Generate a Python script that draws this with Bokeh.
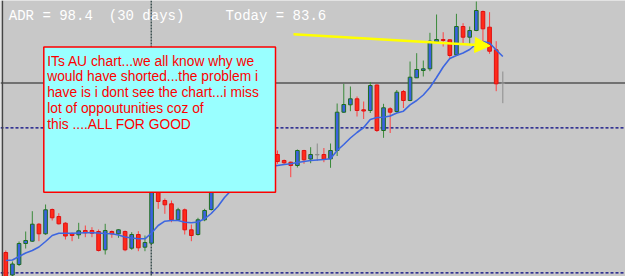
from bokeh.plotting import figure
from bokeh.models import ColumnDataSource, Range1d, Span, BoxAnnotation, Label, Arrow, NormalHead
from bokeh.embed import file_html
from bokeh.resources import INLINE

# ---- data (price levels in pips above chart base) ----
opens = [24, 1.5, 12, 33, 35.3, 52.3, 42.7, 67, 60, 53.3,
         42.7, 41.7, 46, 46, 45, 26.7, 45, 42.7, 45, 28.3,
         42, 29.3, 33.3, 88, 76, 72.7, 56.7, 66.7, 46.7, 42,
         56.7, 67, 88, 95, 90, 103, 110, 104, 115, 109,
         120, 122, 116, 114.3, 111, 126, 117.5, 122, 122, 117.7,
         126, 164.3, 171.7, 177.7, 166.7, 166, 191.5, 146, 167.7, 165,
         185, 176, 198.7, 206, 207.7, 234.3, 237, 236.7, 221.7, 250,
         239.3, 246, 265, 249.3, 226.7, 193.5]
closes = [-6, 12.5, 33, 36, 52.3, 42.7, 66.7, 58.7, 52.7, 40.5,
          41, 45.7, 43.7, 43.3, 26, 46, 42.7, 46.7, 26.7, 42,
          28.7, 34, 90, 75, 71.7, 56.7, 66.7, 46.7, 41, 56.7,
          66, 88, 95, 90, 103, 110, 104, 115, 109, 120,
          118, 115, 113.7, 111, 126, 116.7, 122, 122, 117.3, 126,
          164.3, 172, 177.7, 166, 165.5, 191, 146, 168.7, 164.3, 184.3,
          176, 199.3, 207, 207.7, 235.3, 237, 236, 221, 250, 239.3,
          246, 266, 247.7, 225.3, 192.7, 193.5]
highs = [26, 15, 35, 45, 65.3, 53.5, 72, 68, 63.3, 54.3,
         44, 53.7, 51, 49.3, 47, 52.7, 46, 47.3, 46, 44.3,
         45.3, 41, 96, 91, 78, 76, 68.7, 68, 52, 58.7,
         67.7, 92, 99, 98, 106, 114, 112, 118, 117, 123,
         124, 126, 117, 115, 127, 126.7, 129.3, 133, 128.5, 133,
         173, 192.7, 190, 180, 175, 194.5, 192, 172.7, 169.3, 186.5,
         186.5, 215, 223.3, 216, 243.7, 262, 244.3, 237, 262.7, 253.3,
         250, 275, 266, 264.3, 235.3, 205]
lows = [-8, -1, 10.5, 28, 34.5, 35.3, 41.7, 56, 52, 37,
        35.3, 37.7, 39.3, 39.3, 25, 22, 38.7, 38.7, 25.3, 26.7,
        25.3, 25.3, 32.7, 67.7, 62.7, 54.3, 56, 42, 35.3, 41,
        55.3, 66, 85, 87, 88, 100, 101, 102, 106, 107,
        115, 112.7, 112, 99.3, 109, 112.7, 113.3, 115.5, 114.3, 108.7,
        120.5, 163.5, 165.3, 160, 157.5, 163.5, 144.5, 138.7, 143.5, 164,
        168.5, 175.3, 198.5, 200, 205.3, 234.3, 230, 218.7, 221, 233.3,
        232.7, 245.3, 232.7, 222.7, 185.3, 173.3]
ma = [16, 16.5, 20, 23.5, 26, 29.5, 35, 41, 43.3, 43.3,
      43.3, 43.5, 43.7, 43.7, 43.5, 43, 42.7, 41.5, 39.5, 38.5,
      37.7, 37.7, 43.5, 51, 55.3, 56, 56, 54.3, 53.7, 54.5,
      57.7, 63, 70, 79, 86, 92, 97, 101, 105, 108,
      110, 111, 112, 112.7, 114, 115, 116, 116.5, 117, 117.7,
      126, 132, 138.5, 144, 149, 157, 159, 159.3, 160.5, 163.5,
      165.3, 171.7, 176, 181.5, 189, 199, 209.5, 218, 221, 223.5,
      227, 232.5, 235, 233.5, 226.5, 220]

upper_level = 148.7      # dashed navy line
lower_level = 3.7        # dashed navy line
separator_bar = 21.94    # period separator position (bar index)

header_parts = ["ADR = 98.4", "(30 days)", "Today = 83.6"]
header_cols = [0, 12, 26]

note_lines = ["ITs AU chart...we all know why we",
              "would have shorted...the problem i",
              "have is i dont see the chart...i miss",
              "lot of oppoutunities coz of",
              "this ....ALL FOR GOOD"]

# ---- layout helpers ----
PX0 = 5.3      # pixel x of bar 0
STEP = 6.627   # pixels per bar
W, H = 625, 276

def bx(px):
    return (px - PX0) / STEP

def vy(py):
    return H - py

n = len(opens)
idx = list(range(n))
BULL_FILL, BULL_LINE, BULL_WICK = "#3a62e0", "#1e6e1e", "#3a8a3a"
BEAR_FILL, BEAR_LINE, BEAR_WICK = "#ff2a1a", "#e01010", "#ff4040"
DOJI = "#8c8c8c"

fills, lines, wicks = [], [], []
for o, c in zip(opens, closes):
    if c > o:
        fills.append(BULL_FILL); lines.append(BULL_LINE); wicks.append(BULL_WICK)
    elif c < o:
        fills.append(BEAR_FILL); lines.append(BEAR_LINE); wicks.append(BEAR_WICK)
    else:
        fills.append(DOJI); lines.append(DOJI); wicks.append(DOJI)

src = ColumnDataSource(dict(
    x=idx, top=[max(o, c) for o, c in zip(opens, closes)],
    bottom=[min(o, c) if o != c else o - 0.4 for o, c in zip(opens, closes)],
    high=highs, low=lows, fill=fills, line=lines, wick=wicks))

BG = "#c8c8c8"
p = figure(width=W, height=H, output_backend="svg", toolbar_location=None,
           x_range=Range1d(bx(0), bx(W)), y_range=Range1d(0, H),
           x_axis_type=None, y_axis_type=None, min_border=0)
p.background_fill_color = BG
p.border_fill_color = BG
p.outline_line_color = None
p.grid.visible = False

# reference lines (under the candles)
p.add_layout(Span(location=closes[-1], dimension="width", line_color="#555555",
                  line_width=1.5, level="underlay"))
for lvl in (upper_level, lower_level):
    p.add_layout(Span(location=lvl, dimension="width", line_color="#000080",
                      line_width=1.2, line_dash="3 2", level="underlay"))
p.add_layout(Span(location=separator_bar, dimension="height", line_color="#0f2a2a",
                  line_width=1.1, line_dash="2 1", level="underlay"))
p.add_layout(Span(location=bx(2), dimension="height", line_color="#454545",
                  line_width=1.3, level="underlay"))

# candles
p.segment(x0="x", x1="x", y0="low", y1="high", line_color="wick", line_width=1, source=src)
p.vbar(x="x", top="top", bottom="bottom", width=0.55, fill_color="fill",
       line_color="line", line_width=1, source=src)

# moving average
p.line(idx, ma, line_color="#3d66e0", line_width=1.6)

# header text
for part, col in zip(header_parts, header_cols):
    p.add_layout(Label(x=bx(8.3 + col * 8.33), y=vy(15.3), text=part,
                       text_font="Liberation Mono", text_font_size="14px",
                       text_color="#ffffff", text_baseline="alphabetic"))

# note box
p.add_layout(BoxAnnotation(left=bx(43.3), right=bx(275), top=vy(46.5), bottom=vy(191.7),
                           fill_color="#99ffff", fill_alpha=1.0,
                           line_color="#ff0000", line_width=1.5, line_alpha=1.0))
for k, t in enumerate(note_lines):
    p.add_layout(Label(x=bx(46.7), y=vy(60.7 + 15.7 * k), text=t,
                       text_font="Liberation Sans", text_font_size="13.8px",
                       text_color="#ff0000", text_baseline="alphabetic"))

# yellow arrow
p.add_layout(Arrow(x_start=bx(293), y_start=vy(33.7), x_end=bx(489.5), y_end=vy(45.3),
                   line_color="#ffff00", line_width=2.6,
                   end=NormalHead(size=15, fill_color="#ffff00", line_color="#ffff00")))

open("out.html", "w").write(file_html(p, INLINE))
